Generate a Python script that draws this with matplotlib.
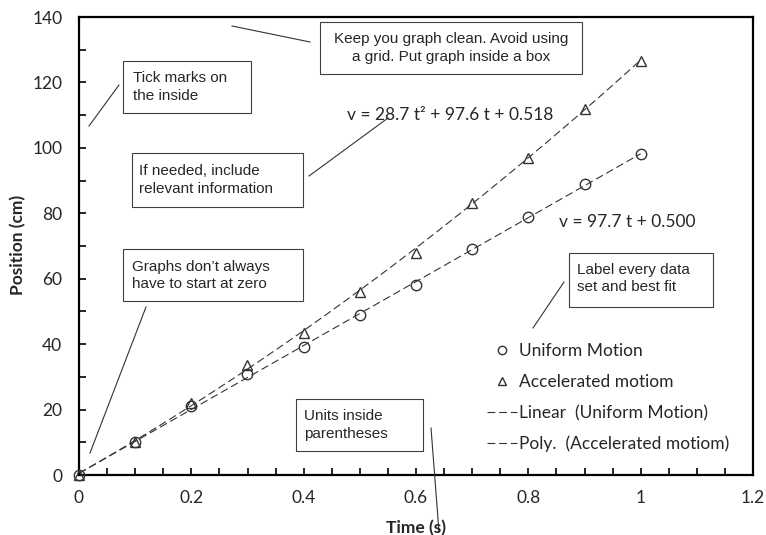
import numpy as np
import matplotlib
matplotlib.use("agg")
import matplotlib.pyplot as plt
from matplotlib.lines import Line2D
from matplotlib.patches import Rectangle

# measured positions for the two runs
time_s = [0.0, 0.1, 0.2, 0.3, 0.4, 0.5, 0.6, 0.7, 0.8, 0.9, 1.0]
uniform_cm = [0, 10, 21, 31, 39, 49, 58, 69, 79, 89, 98]
accel_cm = [0, 10, 22, 33.5, 43.5, 56, 68, 83, 97, 112, 126.5]

# best-fit coefficients (highest power first)
lin_fit = [97.7, 0.500]
poly_fit = [28.7, 97.6, 0.518]

W, H = 766, 535
TXT = '#262626'
MAIN_FONT = 'Lato'
NOTE_FONT = 'Liberation Sans'


def fx(x):
    return x / W


def fy(y):
    return 1 - y / H


def note_box(fig, x0, y0, x1, y1, text, tx, ty, ha='left'):
    '''Boxed comment placed in pixel coordinates'''
    fig.add_artist(Rectangle((fx(x0), fy(y1)), (x1 - x0) / W, (y1 - y0) / H,
                             transform=fig.transFigure, fill=False,
                             edgecolor='#404040', linewidth=0.8))
    fig.text(fx(tx), fy(ty), text, ha=ha, va='center', multialignment=ha,
             fontsize=11, family=NOTE_FONT, color=TXT, linespacing=1.3)


def leader(fig, x0, y0, x1, y1):
    fig.add_artist(Line2D([fx(x0), fx(x1)], [fy(y0), fy(y1)],
                          transform=fig.transFigure, color='#333333', linewidth=0.8))


fig = plt.figure(figsize=(W / 100, H / 100), dpi=100)
ax = fig.add_axes([fx(79), fy(475), (753 - 79) / W, (475 - 17) / H])

mk = dict(linestyle='none', markerfacecolor='none', markeredgecolor='#333333',
          markeredgewidth=1.0, markersize=7.5, clip_on=False, zorder=3)
ax.plot(time_s, uniform_cm, marker='o', label='Uniform Motion', **mk)
ax.plot(time_s, accel_cm, marker='^', label='Accelerated motiom', **mk)

t = np.linspace(0, 1, 200)
ax.plot(t, np.polyval(lin_fit, t), color='#333333', linewidth=0.8,
        dashes=(7, 3.5), label='Linear  (Uniform Motion)')
ax.plot(t, np.polyval(poly_fit, t), color='#333333', linewidth=0.8,
        dashes=(7, 3.5), label='Poly.  (Accelerated motiom)')

ax.set_xlim(0, 1.2)
ax.set_ylim(0, 140)
ax.set_xticks(np.arange(0, 1.21, 0.2))
ax.set_xticklabels(['0', '0.2', '0.4', '0.6', '0.8', '1', '1.2'])
ax.set_xticks(np.arange(0, 1.21, 0.05), minor=True)
ax.set_yticks(np.arange(0, 141, 20))
ax.set_yticks(np.arange(0, 141, 10), minor=True)
ax.tick_params(which='both', direction='in', length=5, width=1.2, color='black',
               top=False, right=False)
ax.tick_params(axis='y', which='major', pad=12)
ax.tick_params(axis='x', which='major', pad=11)
for lab in ax.get_xticklabels() + ax.get_yticklabels():
    lab.set_fontfamily(MAIN_FONT)
    lab.set_fontsize(12.5)
    lab.set_color(TXT)
for s in ax.spines.values():
    s.set_linewidth(1.6)
    s.set_color('black')

fig.text(fx(416), fy(528), 'Time (s)', ha='center', va='center',
         fontsize=12.5, fontweight='bold', family=MAIN_FONT, color=TXT)
fig.text(fx(18), fy(245), 'Position (cm)', ha='center', va='center', rotation=90,
         fontsize=12.5, fontweight='bold', family=MAIN_FONT, color=TXT)

leg = ax.legend(loc='upper left', bbox_to_anchor=(fx(487), fy(343)),
                bbox_transform=fig.transFigure, frameon=False, borderpad=0,
                borderaxespad=0, handlelength=1.75, handletextpad=0.1,
                labelspacing=0.86, markerscale=0.8,
                prop={'family': MAIN_FONT, 'size': 12.5})
for txt in leg.get_texts():
    txt.set_color(TXT)

# fit equations
fig.text(fx(347), fy(115), 'v = 28.7 t\u00b2 + 97.6 t + 0.518', ha='left', va='center',
         fontsize=12.5, family=MAIN_FONT, color=TXT)
fig.text(fx(559), fy(222), 'v = 97.7 t + 0.500', ha='left', va='center',
         fontsize=12.5, family=MAIN_FONT, color=TXT)

# comments with their leader lines
note_box(fig, 320, 22, 582, 74, 'Keep you graph clean. Avoid using\na grid. Put graph inside a box',
         451, 48, ha='center')
leader(fig, 232, 26, 310, 42)
note_box(fig, 123, 61, 251, 113, 'Tick marks on\nthe inside', 133, 87)
leader(fig, 89, 126, 119, 85)
note_box(fig, 132, 153, 303, 207, 'If needed, include\nrelevant information', 139, 180)
leader(fig, 309, 176, 388, 118)
note_box(fig, 123, 249, 303, 301, 'Graphs don\u2019t always\nhave to start at zero', 132, 275.5)
leader(fig, 90, 453, 146, 307)
note_box(fig, 296, 399, 423, 451, 'Units inside\nparentheses', 304, 425)
leader(fig, 431, 428, 439, 532)
note_box(fig, 569, 253, 713, 307, 'Label every data\nset and best fit', 577, 278.5)
leader(fig, 533, 328, 564, 282)

fig.savefig('out.png', dpi=100)
